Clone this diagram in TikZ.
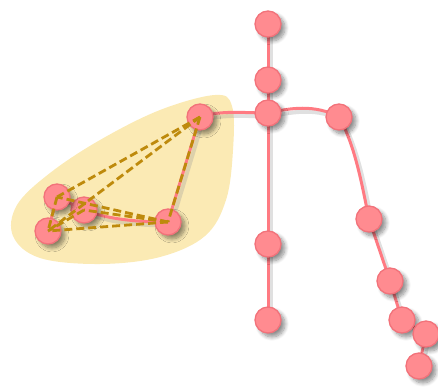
\documentclass[tikz,border=0pt]{standalone}
\usetikzlibrary{shadows.blur}
\definecolor{nodefill}{HTML}{FF8B90}
\definecolor{nodeline}{HTML}{F2727A}
\definecolor{edgecol}{HTML}{FF7A82}
\definecolor{gold}{HTML}{BE8A0C}
\definecolor{blob}{HTML}{FBEAB4}
\tikzset{
  joint/.style={circle, minimum size=26pt, inner sep=0pt, fill=nodefill, draw=nodeline, line width=1.3pt,
    blur shadow={shadow xshift=4pt, shadow yshift=-4pt, shadow blur radius=4pt, shadow blur steps=8, shadow opacity=45}},
  bone/.style={draw=edgecol, line width=3pt},
  boneshadow/.style={draw=black!40, line width=4pt, opacity=0.3, transform canvas={shift={(3pt,-3.5pt)}}},
  link/.style={draw=gold, line width=2.8pt, dash pattern=on 8pt off 4pt},
}
\begin{document}
\begin{tikzpicture}[x=1pt,y=-1pt]
\useasboundingbox (0,0) rectangle (438,390);
% highlight blob
\fill[blob] plot[smooth cycle, tension=0.6] coordinates {(215,95) (232,106) (233,150) (226,200) (205,236) (160,257) (100,264) (40,258) (13,236) (17,205) (50,173) (100,140) (160,110)};
% coordinates of joints
\coordinate (ch) at (268,24);
\coordinate (cn) at (268,80);
\coordinate (cc) at (268,113);
\coordinate (cls) at (200,117);
\coordinate (crs) at (339,117);
\coordinate (cre) at (369,219);
\coordinate (crw) at (390,281);
\coordinate (cr1) at (402,320);
\coordinate (cr2) at (426,334);
\coordinate (cr3) at (419,366);
\coordinate (csp1) at (268,244);
\coordinate (csp2) at (268,320);
\coordinate (cle) at (168,222);
\coordinate (clw) at (84,210);
\coordinate (cl1) at (57,197);
\coordinate (cl2) at (48,231);
% bones with their shadows
\foreach \p in {boneshadow, bone}{
  \path[\p] (ch) -- (cn) -- (cc) -- (csp1) -- (csp2);
  \path[\p] (cc) .. controls (245,113) and (220,110) .. (cls);
  \path[\p] (cc) .. controls (290,108) and (315,104) .. (crs);
  \path[\p] (crs) .. controls (355,145) and (362,185) .. (cre);
  \path[\p] (cre) -- (crw) -- (cr1) -- (cr2) -- (cr3);
  \path[\p] (cls) -- (cle);
  \path[\p] (cle) .. controls (140,222) and (110,220) .. (clw);
  \path[\p] (clw) -- (cl1) -- (cl2);
}
% joints
\node[joint] (h) at (ch) {};
\node[joint] (n) at (cn) {};
\node[joint] (c) at (cc) {};
\node[joint] (rs) at (crs) {};
\node[joint] (re) at (cre) {};
\node[joint] (rw) at (crw) {};
\node[joint] (r1) at (cr1) {};
\node[joint] (r2) at (cr2) {};
\node[joint] (r3) at (cr3) {};
\node[joint] (sp1) at (csp1) {};
\node[joint] (sp2) at (csp2) {};
\node[joint] (ls) at (cls) {};
\node[joint] (le) at (cle) {};
\node[joint] (lw) at (clw) {};
\node[joint] (l1) at (cl1) {};
\node[joint] (l2) at (cl2) {};
% dashed links
\draw[link] (ls.center) -- (l1.center);
\draw[link] (ls.center) -- (l2.center);
\draw[link] (ls.center) -- (le.center);
\draw[link] (le.center) -- (l2.center);
\draw[link] (le.center) -- (l1.center);
\draw[link] (le.center) -- (lw.center);
\draw[link] (l1.center) -- (l2.center);
\draw[link] (lw.center) -- (l2.center);
\end{tikzpicture}
\end{document}
